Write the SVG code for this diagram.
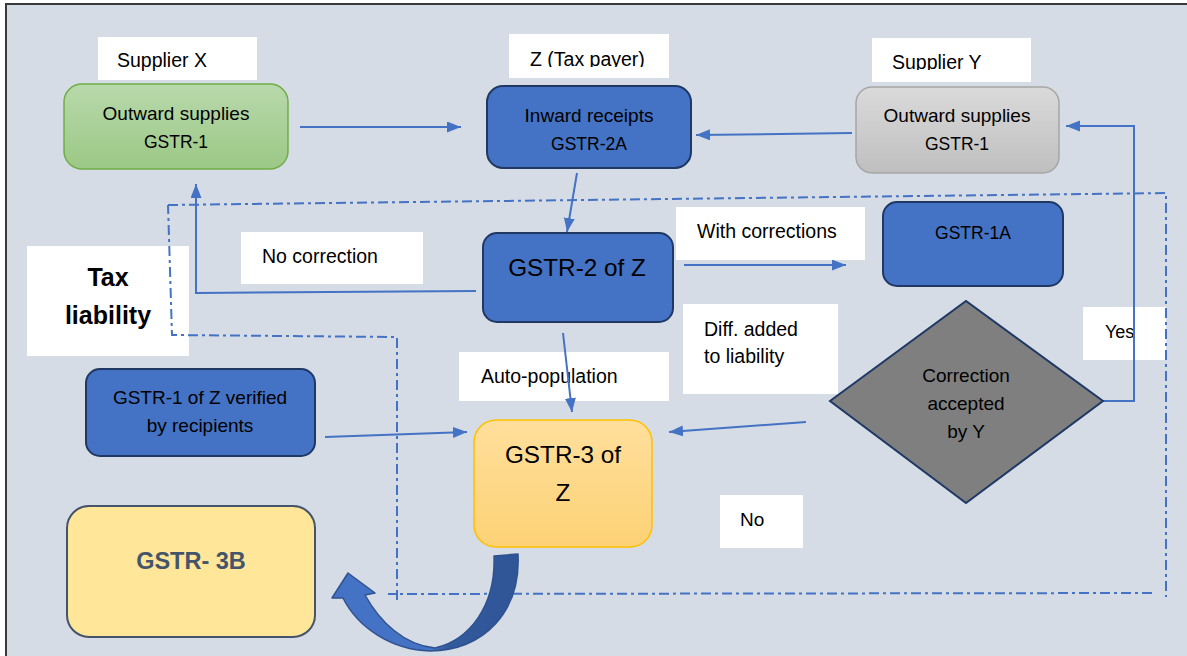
<svg xmlns="http://www.w3.org/2000/svg" width="1187" height="656" viewBox="0 0 1187 656">
<style>
text{font-family:"Liberation Sans",Arial,sans-serif;fill:#000}
.lbl{font-size:19.5px}
.box{font-size:19px;text-anchor:middle}
.gs{font-size:17.5px;text-anchor:middle}
.big{font-size:24.3px;text-anchor:middle}
.wl{fill:#fff}
.blue{fill:#4472c4;stroke:#1f3864;stroke-width:2}
.conn{fill:none;stroke:#4472c4;stroke-width:2}
.dd{fill:none;stroke:#4472c4;stroke-width:2;stroke-dasharray:10 4 3 4}
</style>
<defs>
<marker id="ah" markerUnits="userSpaceOnUse" markerWidth="15" markerHeight="12" refX="14" refY="5.5" orient="auto"><path d="M0,0 L14,5.5 L0,11 Z" fill="#4472c4"/></marker>
<linearGradient id="gG" x1="0" y1="0" x2="0" y2="1"><stop offset="0" stop-color="#b8d9ab"/><stop offset="1" stop-color="#9cc886"/></linearGradient>
<linearGradient id="gY" x1="0" y1="0" x2="0" y2="1"><stop offset="0" stop-color="#dadada"/><stop offset="1" stop-color="#bfbfbf"/></linearGradient>
<linearGradient id="gO" x1="0" y1="0" x2="0" y2="1"><stop offset="0" stop-color="#ffdf9c"/><stop offset="1" stop-color="#fdd276"/></linearGradient>
<linearGradient id="gC" x1="0" y1="0" x2="1" y2="0"><stop offset="0" stop-color="#4472c4"/><stop offset="0.54" stop-color="#4472c4"/><stop offset="0.62" stop-color="#335a9e"/><stop offset="1" stop-color="#2f5597"/></linearGradient>
<clipPath id="cZ"><rect x="509" y="34" width="160" height="33"/></clipPath>
<clipPath id="cY"><rect x="872" y="38" width="159" height="32"/></clipPath>
</defs>
<rect x="0" y="0" width="1187" height="656" fill="#fff"/>
<rect x="6" y="4" width="1181" height="652" fill="#d6dce5"/>
<path d="M6 656 L6 4 L1187 4" fill="none" stroke="#3a3a3a" stroke-width="2"/>

<g id="labels">
<g id="lbl-supplier-x"><rect class="wl" x="98" y="37" width="159" height="43"/><text class="lbl" x="117" y="67">Supplier X</text></g>
<g id="lbl-z"><rect class="wl" x="509" y="34" width="160" height="44"/><text class="lbl" x="530" y="66" clip-path="url(#cZ)">Z (Tax payer)</text></g>
<g id="lbl-supplier-y"><rect class="wl" x="872" y="38" width="159" height="44"/><text class="lbl" x="892" y="69" clip-path="url(#cY)">Supplier Y</text></g>
<g id="lbl-tax"><rect class="wl" x="27" y="246" width="162" height="110"/><text x="108" y="286" font-size="25" font-weight="bold" text-anchor="middle">Tax</text><text x="108" y="324" font-size="25" font-weight="bold" text-anchor="middle">liability</text></g>
<g id="lbl-nocorr"><rect class="wl" x="241" y="232" width="182" height="52"/><text class="lbl" x="262" y="263">No correction</text></g>
<g id="lbl-withcorr"><rect class="wl" x="676" y="207" width="189" height="53"/><text class="lbl" x="697" y="238">With corrections</text></g>
<g id="lbl-diff"><rect class="wl" x="683" y="304" width="155" height="90"/><text class="lbl" x="704" y="336">Diff. added</text><text class="lbl" x="704" y="363">to liability</text></g>
<g id="lbl-auto"><rect class="wl" x="459" y="352" width="210" height="49"/><text class="lbl" x="481" y="383">Auto-population</text></g>
<g id="lbl-yes"><rect class="wl" x="1083" y="307" width="83" height="53"/><text x="1105" y="338" font-size="18">Yes</text></g>
<g id="lbl-no"><rect class="wl" x="720" y="495" width="83" height="53"/><text x="740" y="526" font-size="19">No</text></g>
</g>

<g id="boundary">
<path class="dd" d="M168 205 L1166 193 L1166 597"/>
<path class="dd" d="M1152 593 L388 594"/>
<path class="dd" d="M397 600 L397 337 L172 335 L168 205"/>
</g>

<g id="connectors">
<path class="conn" d="M300 127 L461 127" marker-end="url(#ah)"/>
<path class="conn" d="M852 133 L696 135" marker-end="url(#ah)"/>
<path class="conn" d="M1103 401 L1134 401 L1134 126 L1066 126" marker-end="url(#ah)"/>
<path class="conn" d="M577 173 L567 232" marker-end="url(#ah)"/>
<path class="conn" d="M476 291 L196 293 L196 184" marker-end="url(#ah)"/>
<path class="conn" d="M684 265 L846 265" marker-end="url(#ah)"/>
<path class="conn" d="M563 333 L572 412" marker-end="url(#ah)"/>
<path class="conn" d="M325 437 L467 432" marker-end="url(#ah)"/>
<path class="conn" d="M806 422 L669 432" marker-end="url(#ah)"/>
</g>

<g id="node-supplier-x"><rect x="64" y="84" width="224" height="85" rx="18" fill="url(#gG)" stroke="#70ad47" stroke-width="1.5"/><text class="box" x="176" y="120">Outward supplies</text><text class="gs" x="176" y="148">GSTR-1</text></g>
<g id="node-gstr2a"><rect class="blue" x="487" y="86" width="204" height="82" rx="16"/><text class="box" x="589" y="122">Inward receipts</text><text class="gs" x="589" y="150">GSTR-2A</text></g>
<g id="node-supplier-y"><rect x="856" y="87" width="203" height="86" rx="16" fill="url(#gY)" stroke="#a5a5a5" stroke-width="1.5"/><text class="box" x="957" y="122">Outward supplies</text><text class="gs" x="957" y="150">GSTR-1</text></g>
<g id="node-gstr2"><rect class="blue" x="483" y="233" width="190" height="89" rx="14"/><text class="big" x="577" y="276">GSTR-2 of Z</text></g>
<g id="node-gstr1a"><rect class="blue" x="883" y="202" width="180" height="84" rx="14"/><text class="gs" x="973" y="239">GSTR-1A</text></g>
<g id="node-decision"><path d="M830 401 L966 301 L1103 401 L966 503 Z" fill="#7f7f7f" stroke="#1f3864" stroke-width="2"/><text class="box" x="966" y="382">Correction</text><text class="box" x="966" y="410">accepted</text><text class="box" x="966" y="438">by Y</text></g>
<g id="node-gstr1z"><rect class="blue" x="86" y="369" width="229" height="87" rx="14"/><text class="box" x="200" y="404" font-size="18.5">GSTR-1 of Z verified</text><text class="box" x="200" y="432">by recipients</text></g>
<g id="node-gstr3"><rect x="474" y="420" width="178" height="127" rx="22" fill="url(#gO)" stroke="#ffc000" stroke-width="1.5"/><text class="big" x="563" y="463">GSTR-3 of</text><text class="big" x="563" y="501">Z</text></g>
<g id="node-gstr3b"><rect x="67" y="506" width="248" height="131" rx="22" fill="#ffe699" stroke="#44546a" stroke-width="2"/><text x="191" y="569" font-size="23.5" font-weight="bold" text-anchor="middle" style="fill:#44546a">GSTR- 3B</text></g>

<g id="curved-arrow">
<path d="M494 556 L518 554 C521 612 484 650 430 651 C392 650 358 628 343 598 L332 598 L348 573 L375 593 L365 595 C380 622 404 645 435 648 C470 640 496 605 494 556 Z" fill="url(#gC)" stroke="#2f528f" stroke-width="1.5" stroke-linejoin="round"/>
</g>
</svg>
